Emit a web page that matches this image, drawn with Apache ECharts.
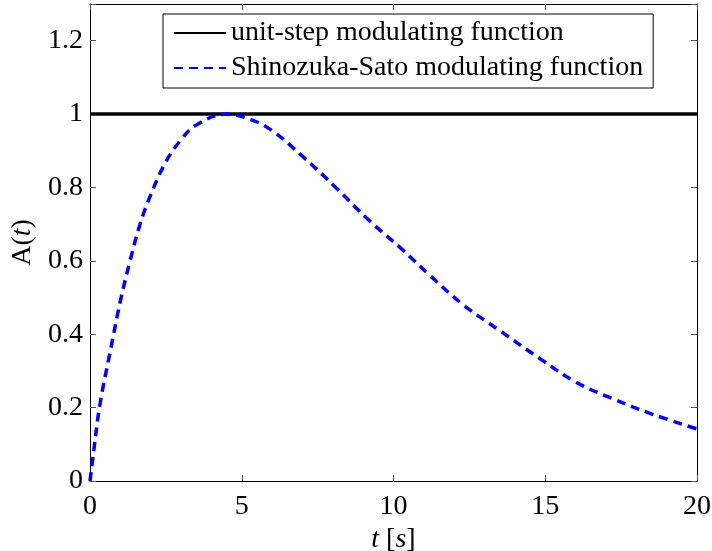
<!DOCTYPE html>
<html><head><meta charset="utf-8">
<script src="https://cdn.jsdelivr.net/npm/echarts@6/dist/echarts.min.js"></script>
<style>html,body{margin:0;padding:0;background:#fff}#c{width:712px;height:551px}</style>
</head><body><div id="c"></div>
<script>
const stepT = [0, 20];
const stepA = [1, 1];
const ssT = [0, 0.12, 0.33, 0.66, 1.0, 1.32, 1.65, 2.0, 2.5, 3.0, 3.5, 4.5, 5.3, 6.0, 7.0, 8.1, 9.2, 10.3, 11.2, 12.3, 13.5, 14.8, 16.0, 17.2, 18.6, 20];
const ssA = [0, 0.08, 0.21, 0.35, 0.49, 0.60, 0.70, 0.78, 0.87, 0.93, 0.97, 1.0, 0.985, 0.955, 0.885, 0.80, 0.71, 0.63, 0.56, 0.48, 0.41, 0.335, 0.27, 0.225, 0.18, 0.142];
const xTicks = [0, 5, 10, 15, 20];
const yTicks = [0, 0.2, 0.4, 0.6, 0.8, 1, 1.2];
const names = ['unit-step modulating function', 'Shinozuka-Sato modulating function'];

const font = 'Liberation Serif';
const fs = 28;
const chart = echarts.init(document.getElementById('c'));
const axBase = {
  axisLine: {show: true, onZero: false, lineStyle: {color: '#000', width: 1}},
  axisTick: {show: true, inside: true, length: 6, lineStyle: {color: '#555', width: 1}},
  splitLine: {show: false}
};
chart.setOption({
  animation: false,
  grid: {left: 90, top: 4, right: 15, bottom: 70, containLabel: false, outerBoundsMode: 'none'},
  legend: {
    orient: 'vertical', left: 163, top: 14,
    data: names,
    borderColor: '#000', borderWidth: 1, borderRadius: 0,
    padding: [5, 10, 6, 10],
    itemWidth: 52, itemHeight: 14, itemGap: 7,
    itemStyle: {opacity: 0},
    textStyle: {fontFamily: font, fontSize: fs, color: '#000'}
  },
  xAxis: [
    Object.assign({}, axBase, {
      type: 'value', min: 0, max: 20, interval: 5, position: 'bottom',
      name: '{i|t} [{i|s}]', nameLocation: 'middle', nameGap: 44,
      nameTextStyle: {fontFamily: font, fontSize: fs, color: '#000', rich: {i: {fontFamily: font, fontSize: fs, fontStyle: 'italic'}}},
      axisLabel: {fontFamily: font, fontSize: fs, color: '#000', margin: 12}
    }),
    Object.assign({}, axBase, {
      type: 'value', min: 0, max: 20, interval: 5, position: 'top',
      axisLabel: {show: false}
    })
  ],
  yAxis: [
    Object.assign({}, axBase, {
      type: 'value', min: 0, max: 1.3, interval: 0.2, position: 'left',
      name: 'A({i|t})', nameLocation: 'middle', nameGap: 53, nameRotate: 90,
      nameTextStyle: {fontFamily: font, fontSize: fs, color: '#000', rich: {i: {fontFamily: font, fontSize: fs, fontStyle: 'italic'}}},
      axisLabel: {fontFamily: font, fontSize: fs, color: '#000', margin: 7,
        formatter: v => (yTicks.some(t => Math.abs(t - v) < 1e-9) ? String(+v.toFixed(1)) : '')}
    }),
    Object.assign({}, axBase, {
      type: 'value', min: 0, max: 1.3, interval: 0.2, position: 'right',
      axisLabel: {show: false}
    })
  ],
  series: [
    {
      name: names[0], type: 'line', symbol: 'none',
      data: stepT.map((t, i) => [t, stepA[i]]),
      lineStyle: {color: '#000', width: 3.5},
      itemStyle: {color: '#000'}
    },
    {
      name: names[1], type: 'line', symbol: 'none', smooth: 0.4,
      data: ssT.map((t, i) => [t, ssA[i]]),
      lineStyle: {color: '#0000ff', width: 3.5, type: [9, 6]},
      itemStyle: {color: '#0000ff'}
    }
  ]
});
</script></body></html>
